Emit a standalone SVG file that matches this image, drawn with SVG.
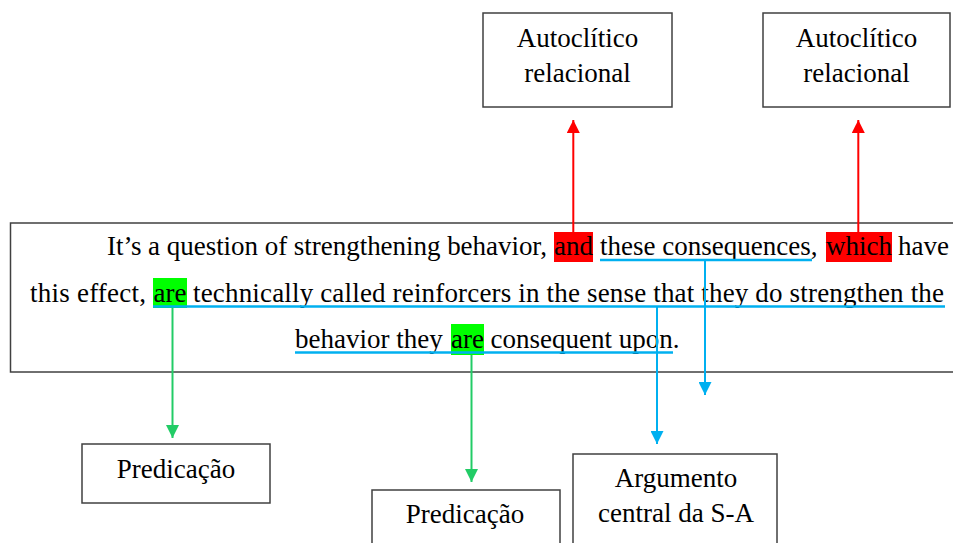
<svg xmlns="http://www.w3.org/2000/svg" width="953" height="543" viewBox="0 0 953 543">
  <style>
    .box { fill: #ffffff; stroke: #404040; stroke-width: 1.5; }
    .t { font-family: "Liberation Serif", "Times New Roman", serif; font-size: 27px; fill: #000000; }
    .c { text-anchor: middle; }
    .ul { stroke: #00B0F0; stroke-width: 2.5; fill: none; }
    .red { stroke: #FF0000; stroke-width: 2; fill: none; }
    .blue { stroke: #00B0F0; stroke-width: 2; fill: none; }
    .green { stroke: #22CC66; stroke-width: 2; fill: none; }
  </style>
  <defs>
    <marker id="arrRed" markerUnits="userSpaceOnUse" markerWidth="13" markerHeight="13" refX="13" refY="6.5" orient="auto">
      <path d="M0,0 L13,6.5 L0,13 z" fill="#FF0000"/>
    </marker>
    <marker id="arrBlue" markerUnits="userSpaceOnUse" markerWidth="13" markerHeight="13" refX="13" refY="6.5" orient="auto">
      <path d="M0,0 L13,6.5 L0,13 z" fill="#00B0F0"/>
    </marker>
    <marker id="arrGreen" markerUnits="userSpaceOnUse" markerWidth="13" markerHeight="13" refX="13" refY="6.5" orient="auto">
      <path d="M0,0 L13,6.5 L0,13 z" fill="#22CC66"/>
    </marker>
  </defs>
  <rect width="953" height="543" fill="#ffffff"/>

  <!-- Top boxes -->
  <g id="autoclitico1">
    <rect class="box" x="483" y="13" width="189" height="94"/>
    <text class="t c" x="577.5" y="47">Autoclítico</text>
    <text class="t c" x="577.5" y="82">relacional</text>
  </g>
  <g id="autoclitico2">
    <rect class="box" x="763" y="13" width="187" height="94"/>
    <text class="t c" x="856.5" y="47">Autoclítico</text>
    <text class="t c" x="856.5" y="82">relacional</text>
  </g>

  <!-- Sentence box -->
  <g id="sentence">
    <rect class="box" x="10.5" y="223" width="960" height="149"/>
    <!-- highlights -->
    <rect x="554" y="232" width="39" height="30" fill="#FF0000"/>
    <rect x="826" y="232" width="66" height="30" fill="#FF0000"/>
    <rect x="153" y="278" width="34" height="30" fill="#00FF00"/>
    <rect x="451" y="324" width="33" height="31" fill="#00FF00"/>
    <!-- line 1 -->
    <text class="t" x="107" y="255" textLength="440" lengthAdjust="spacing">It’s a question of strengthening behavior,</text>
    <text class="t" x="554" y="255">and</text>
    <text class="t" x="600" y="255">these consequences,</text>
    <text class="t" x="826" y="255">which</text>
    <text class="t" x="898" y="255">have</text>
    <!-- line 2 -->
    <text class="t" x="30" y="302" textLength="116" lengthAdjust="spacing">this effect,</text>
    <text class="t" x="153.5" y="302">are</text>
    <text class="t" x="193" y="302" textLength="751" lengthAdjust="spacing">technically called reinforcers in the sense that they do strengthen the</text>
    <!-- line 3 -->
    <text class="t" x="295" y="348">behavior they</text>
    <text class="t" x="451" y="348">are</text>
    <text class="t" x="490.5" y="348">consequent upon.</text>
    <!-- underlines -->
    <line class="ul" x1="600" y1="260" x2="812" y2="260"/>
    <line class="ul" x1="153" y1="306.5" x2="945" y2="306.5"/>
    <line class="ul" x1="295" y1="352.5" x2="673" y2="352.5"/>
  </g>

  <!-- Bottom boxes -->
  <g id="predicacao1">
    <rect class="box" x="82" y="444" width="188" height="59"/>
    <text class="t c" x="176" y="478">Predicação</text>
  </g>
  <g id="predicacao2">
    <rect class="box" x="372" y="490" width="188" height="80"/>
    <text class="t c" x="465" y="523">Predicação</text>
  </g>
  <g id="argumento">
    <rect class="box" x="573" y="454" width="204" height="110"/>
    <text class="t c" x="676" y="487">Argumento</text>
    <text class="t c" x="676" y="522">central da S-A</text>
  </g>

  <!-- Connectors -->
  <g id="connectors">
    <line class="red" x1="573.3" y1="232" x2="573.3" y2="120" marker-end="url(#arrRed)"/>
    <line class="red" x1="858.3" y1="232" x2="858.3" y2="120" marker-end="url(#arrRed)"/>
    <line class="blue" x1="705" y1="260" x2="705" y2="395" marker-end="url(#arrBlue)"/>
    <line class="blue" x1="657" y1="307" x2="657" y2="444" marker-end="url(#arrBlue)"/>
    <line class="green" x1="172.5" y1="308" x2="172.5" y2="438" marker-end="url(#arrGreen)"/>
    <line class="green" x1="471.5" y1="355" x2="471.5" y2="482" marker-end="url(#arrGreen)"/>
  </g>
</svg>
